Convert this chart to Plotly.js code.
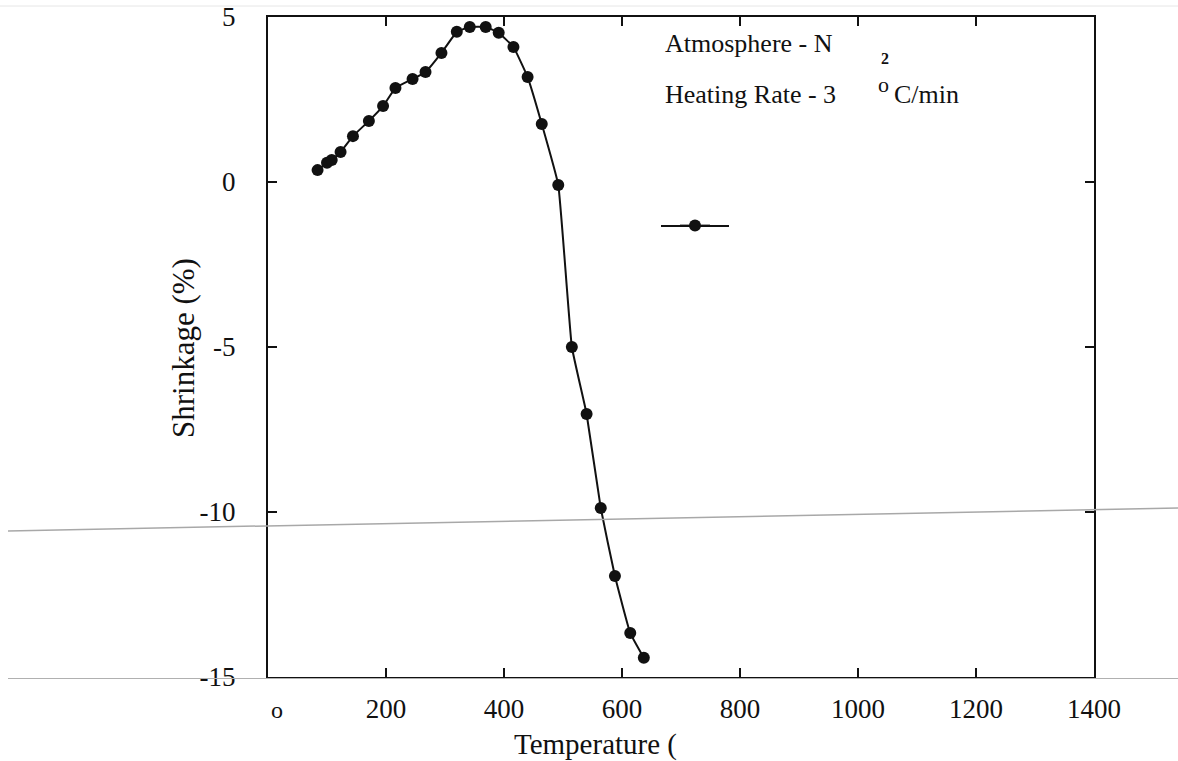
<!DOCTYPE html>
<html>
<head>
<meta charset="utf-8">
<script src="https://cdn.plot.ly/plotly-3.0.1.min.js"></script>
<style>html,body{margin:0;padding:0;background:#fff;}#chart{width:1178px;height:761px;}</style>
</head>
<body>
<div id="chart"></div>
<script>
// Data
const temperature = [84, 100, 108, 123, 144, 171, 195, 216, 245, 267, 294, 320, 342, 369, 391, 416, 440, 464, 492, 515, 540, 564, 588, 614, 637];
const shrinkage = [0.36, 0.58, 0.67, 0.91, 1.39, 1.85, 2.30, 2.85, 3.12, 3.33, 3.91, 4.55, 4.70, 4.70, 4.52, 4.09, 3.18, 1.76, -0.09, -5.0, -7.03, -9.88, -11.94, -13.67, -14.42];
const xTickVals = [0, 200, 400, 600, 800, 1000, 1200, 1400];
const xTickText = ['<span style="font-size:24px">&nbsp;&nbsp;&nbsp;o</span>', '200', '400', '600', '800', '1000', '1200', '1400'];
const yTickVals = [-15, -10, -5, 0, 5];
const yTickText = ['-15', '-10', '-5', '0', '5'];

const SERIF = 'Liberation Serif, Times New Roman, serif';

const trace = {
  x: temperature,
  y: shrinkage,
  type: 'scatter',
  mode: 'lines+markers',
  name: ' ',
  line: {color: '#111', width: 2, shape: 'spline', smoothing: 0.3},
  marker: {color: '#111', size: 12, symbol: 'circle'},
  showlegend: true
};

// pixel -> paper helpers (plot area 268..1094 x, 17..677 y)
const px = v => (v - 268) / 826;
const py = v => (677 - v) / 660;

const layout = {
  width: 1178,
  height: 761,
  margin: {l: 268, r: 84, t: 17, b: 84},
  paper_bgcolor: '#fff',
  plot_bgcolor: '#fff',
  font: {family: SERIF, color: '#111'},
  xaxis: {
    range: [0, 1400],
    tickmode: 'array',
    tickvals: xTickVals,
    ticktext: xTickText,
    showline: true, linecolor: '#111', linewidth: 2, mirror: 'ticks',
    ticks: 'inside', ticklen: 9, tickwidth: 2, tickcolor: '#111',
    showgrid: false, zeroline: false,
    tickfont: {family: SERIF, size: 27, color: '#111'},
    ticklabelstandoff: 7
  },
  yaxis: {
    range: [-15, 5],
    tickmode: 'array',
    tickvals: yTickVals,
    ticktext: yTickText,
    showline: true, linecolor: '#111', linewidth: 2, mirror: 'ticks',
    ticks: 'inside', ticklen: 9, tickwidth: 2, tickcolor: '#111',
    showgrid: false, zeroline: false,
    tickfont: {family: SERIF, size: 27, color: '#111'},
    ticklabelstandoff: 25
  },
  showlegend: true,
  legend: {
    x: px(675), y: py(226), xanchor: 'left', yanchor: 'middle',
    bgcolor: 'rgba(0,0,0,0)', borderwidth: 0,
    font: {family: SERIF, size: 14}
  },
  shapes: [
    {type: 'line', xref: 'paper', yref: 'paper', x0: px(661), x1: px(729), y0: py(226), y1: py(226), line: {color: '#111', width: 2}},
    {type: 'line', xref: 'paper', yref: 'paper', x0: px(0), x1: px(1178), y0: py(6), y1: py(6), line: {color: '#e6e6e6', width: 1}},
    {type: 'line', xref: 'paper', yref: 'paper', x0: px(8), x1: px(1178), y0: py(531), y1: py(508), line: {color: '#a8a8a8', width: 1.5}},
    {type: 'line', xref: 'paper', yref: 'paper', x0: px(8), x1: px(1178), y0: py(678.5), y1: py(678.5), line: {color: '#b0b0b0', width: 1}}
  ],
  annotations: [
    {text: 'Atmosphere - N', xref: 'paper', yref: 'paper', x: px(663), y: py(43), xanchor: 'left', yanchor: 'middle', showarrow: false, font: {family: SERIF, size: 26, color: '#111'}},
    {text: '<b>2</b>', xref: 'paper', yref: 'paper', x: px(885), y: py(58), xanchor: 'center', yanchor: 'middle', showarrow: false, font: {family: SERIF, size: 16, color: '#111'}},
    {text: 'Heating Rate - 3', xref: 'paper', yref: 'paper', x: px(663), y: py(95), xanchor: 'left', yanchor: 'middle', showarrow: false, font: {family: SERIF, size: 26, color: '#111'}},
    {text: 'o', xref: 'paper', yref: 'paper', x: px(883), y: py(84), xanchor: 'center', yanchor: 'middle', showarrow: false, font: {family: SERIF, size: 22, color: '#111'}},
    {text: 'C/min', xref: 'paper', yref: 'paper', x: px(892), y: py(95), xanchor: 'left', yanchor: 'middle', showarrow: false, font: {family: SERIF, size: 26, color: '#111'}},
    {text: 'Shrinkage (%)', xref: 'paper', yref: 'paper', x: px(184), y: py(348), xanchor: 'center', yanchor: 'middle', textangle: -90, showarrow: false, font: {family: SERIF, size: 31, color: '#111'}},
    {text: 'Temperature (', xref: 'paper', yref: 'paper', x: px(595), y: py(744), xanchor: 'center', yanchor: 'middle', showarrow: false, font: {family: SERIF, size: 29, color: '#111'}}
  ]
};

Plotly.newPlot('chart', [trace], layout, {displayModeBar: false, staticPlot: true});
</script>
</body>
</html>
